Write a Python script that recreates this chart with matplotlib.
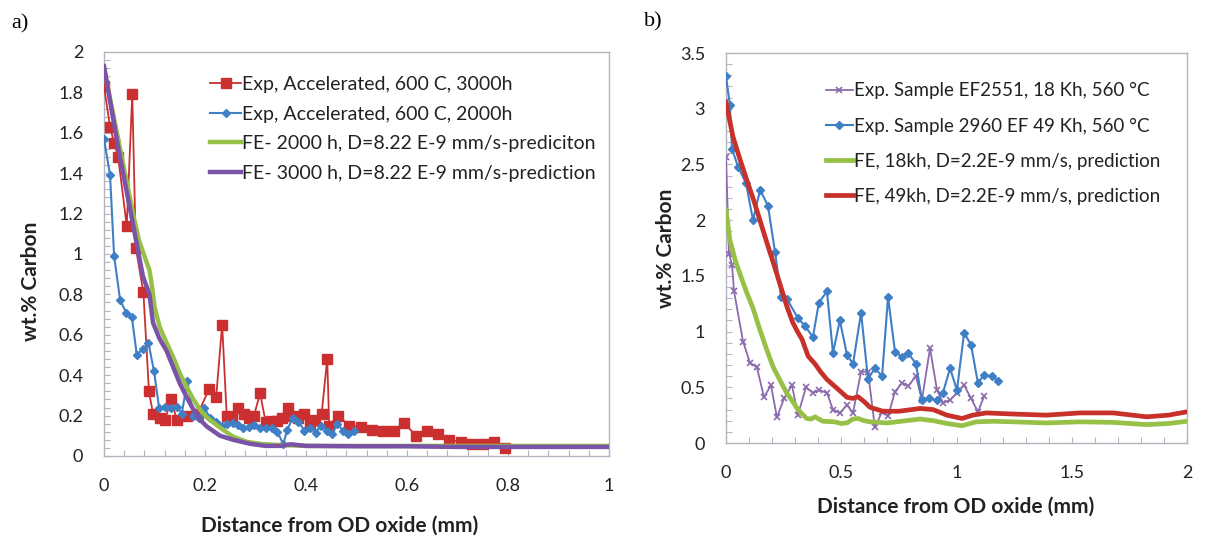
import matplotlib
matplotlib.use("Agg")
import matplotlib.pyplot as plt
from matplotlib.ticker import MultipleLocator, FuncFormatter

plt.rcParams['font.family'] = ['Lato', 'DejaVu Sans']

# ---------------- a) accelerated tests ----------------
a_exp3000_x = [0, 0.012, 0.02, 0.028, 0.045, 0.056, 0.063, 0.078, 0.089, 0.097, 0.111, 0.121,
               0.133, 0.144, 0.164, 0.186, 0.208, 0.222, 0.234, 0.243, 0.253, 0.265, 0.277,
               0.287, 0.297, 0.309, 0.32, 0.331, 0.342, 0.353, 0.365, 0.375, 0.385, 0.397,
               0.408, 0.418, 0.431, 0.442, 0.446, 0.463, 0.486, 0.508, 0.531, 0.552, 0.574,
               0.594, 0.618, 0.640, 0.662, 0.683, 0.707, 0.729, 0.750, 0.772, 0.794]
a_exp3000_y = [1.83, 1.63, 1.55, 1.48, 1.14, 1.79, 1.03, 0.81, 0.32, 0.21, 0.19, 0.18,
               0.28, 0.18, 0.20, 0.21, 0.33, 0.29, 0.65, 0.20, 0.19, 0.24, 0.21,
               0.19, 0.20, 0.31, 0.17, 0.175, 0.175, 0.19, 0.24, 0.20, 0.19, 0.21,
               0.16, 0.18, 0.21, 0.48, 0.15, 0.20, 0.15, 0.145, 0.13, 0.125, 0.125,
               0.165, 0.10, 0.125, 0.11, 0.08, 0.07, 0.06, 0.06, 0.07, 0.04]

a_exp2000_x = [0, 0.012, 0.02, 0.032, 0.044, 0.055, 0.065, 0.077, 0.088, 0.099, 0.109, 0.121,
               0.133, 0.144, 0.154, 0.165, 0.177, 0.188, 0.198, 0.21, 0.222, 0.234, 0.243,
               0.255, 0.265, 0.275, 0.287, 0.297, 0.309, 0.32, 0.333, 0.343, 0.355, 0.363,
               0.374, 0.385, 0.397, 0.408, 0.419, 0.43, 0.441, 0.452, 0.462, 0.473, 0.484, 0.495]
a_exp2000_y = [1.57, 1.39, 0.99, 0.77, 0.71, 0.69, 0.50, 0.53, 0.56, 0.42, 0.24, 0.245,
               0.24, 0.245, 0.21, 0.37, 0.20, 0.19, 0.24, 0.19, 0.17, 0.15, 0.16,
               0.165, 0.155, 0.14, 0.145, 0.155, 0.14, 0.14, 0.14, 0.12, 0.06, 0.13,
               0.19, 0.17, 0.125, 0.14, 0.115, 0.15, 0.125, 0.11, 0.16, 0.125, 0.11, 0.125]

a_fe2000_x = [0, 0.02, 0.04, 0.06, 0.07, 0.08, 0.09, 0.095, 0.1, 0.11, 0.124, 0.137, 0.15,
              0.164, 0.177, 0.19, 0.204, 0.23, 0.256, 0.283, 0.31, 0.34, 0.4, 0.5, 0.6,
              0.7, 0.8, 0.9, 1.0]
a_fe2000_y = [1.92, 1.67, 1.42, 1.17, 1.06, 0.99, 0.92, 0.84, 0.74, 0.64, 0.56, 0.49, 0.41,
              0.34, 0.28, 0.23, 0.19, 0.14, 0.095, 0.07, 0.06, 0.055, 0.05, 0.05, 0.05,
              0.05, 0.05, 0.05, 0.05]

a_fe3000_x = [0, 0.03, 0.058, 0.077, 0.09, 0.097, 0.11, 0.124, 0.137, 0.15, 0.164, 0.177,
              0.19, 0.204, 0.23, 0.256, 0.29, 0.32, 0.35, 0.37, 0.4, 0.5, 0.6, 0.7, 0.8,
              0.9, 1.0]
a_fe3000_y = [1.93, 1.50, 1.14, 0.89, 0.80, 0.66, 0.58, 0.52, 0.44, 0.36, 0.29, 0.23,
              0.18, 0.145, 0.10, 0.08, 0.06, 0.05, 0.05, 0.058, 0.05, 0.048, 0.048, 0.045,
              0.045, 0.045, 0.045]

# ---------------- b) service-exposed samples ----------------
b_exp18_x = [0, 0.013, 0.026, 0.035, 0.074, 0.104, 0.134, 0.165, 0.195, 0.221, 0.252, 0.286,
             0.312, 0.347, 0.377, 0.403, 0.438, 0.464, 0.494, 0.525, 0.551, 0.586, 0.616,
             0.646, 0.677, 0.703, 0.733, 0.764, 0.79, 0.824, 0.85, 0.885, 0.915, 0.941,
             0.972, 1.002, 1.033, 1.063, 1.093, 1.12]
b_exp18_y = [2.57, 1.70, 1.60, 1.36, 0.91, 0.72, 0.68, 0.41, 0.52, 0.23, 0.40, 0.52,
             0.25, 0.50, 0.45, 0.475, 0.45, 0.30, 0.27, 0.34, 0.27, 0.64, 0.64,
             0.14, 0.28, 0.24, 0.46, 0.54, 0.51, 0.60, 0.385, 0.85, 0.48, 0.36,
             0.385, 0.45, 0.52, 0.40, 0.28, 0.42]

b_exp49_x = [0, 0.017, 0.026, 0.052, 0.087, 0.117, 0.148, 0.182, 0.213, 0.239, 0.265, 0.312,
             0.343, 0.377, 0.403, 0.438, 0.464, 0.494, 0.525, 0.551, 0.586, 0.616, 0.646,
             0.677, 0.703, 0.733, 0.764, 0.79, 0.824, 0.85, 0.881, 0.915, 0.941, 0.972,
             1.002, 1.033, 1.063, 1.093, 1.12, 1.154, 1.18]
b_exp49_y = [3.29, 3.03, 2.64, 2.48, 2.33, 2.00, 2.27, 2.13, 1.71, 1.31, 1.29, 1.12,
             1.05, 0.95, 1.26, 1.36, 0.81, 1.10, 0.79, 0.71, 1.17, 0.575, 0.67,
             0.60, 1.31, 0.82, 0.77, 0.81, 0.71, 0.385, 0.40, 0.385, 0.45, 0.67,
             0.475, 0.99, 0.88, 0.54, 0.61, 0.60, 0.56]

b_fe18_x = [0, 0.017, 0.04, 0.06, 0.09, 0.117, 0.148, 0.178, 0.205, 0.235, 0.263, 0.29,
            0.312, 0.335, 0.35, 0.37, 0.386, 0.42, 0.47, 0.5, 0.525, 0.55, 0.573, 0.6,
            0.625, 0.7, 0.78, 0.842, 0.9, 0.958, 1.024, 1.085, 1.16, 1.245, 1.39, 1.535,
            1.68, 1.825, 1.92, 2.0]
b_fe18_y = [2.09, 1.82, 1.64, 1.52, 1.35, 1.21, 1.01, 0.83, 0.68, 0.56, 0.45, 0.37,
            0.30, 0.25, 0.22, 0.215, 0.235, 0.195, 0.19, 0.175, 0.18, 0.215, 0.22, 0.2,
            0.19, 0.18, 0.2, 0.215, 0.2, 0.175, 0.155, 0.19, 0.195, 0.19, 0.18, 0.19,
            0.185, 0.165, 0.175, 0.195]

b_fe49_x = [0, 0.03, 0.06, 0.09, 0.12, 0.15, 0.18, 0.205, 0.235, 0.265, 0.29, 0.31,
            0.33, 0.356, 0.386, 0.41, 0.438, 0.482, 0.525, 0.55, 0.573, 0.6, 0.625, 0.681,
            0.75, 0.842, 0.898, 0.958, 1.024, 1.07, 1.13, 1.245, 1.39, 1.535, 1.68,
            1.825, 1.92, 2.0]
b_fe49_y = [3.06, 2.75, 2.55, 2.36, 2.18, 1.98, 1.78, 1.62, 1.42, 1.22, 1.08, 1.00,
            0.93, 0.78, 0.71, 0.64, 0.57, 0.49, 0.41, 0.40, 0.415, 0.37, 0.32, 0.285,
            0.285, 0.31, 0.30, 0.25, 0.22, 0.25, 0.27, 0.26, 0.25, 0.27, 0.27,
            0.235, 0.25, 0.28]

RED = '#cc2f2f'
BLUE = '#3f7fc6'
GREEN = '#96c046'
PURPLE = '#7a52a8'
FE_RED = '#c8302a'
PURPLE_EXP = '#8c6aae'
FRAME = '#b4b4c0'

fig = plt.figure(figsize=(12.23, 5.41), dpi=100)
W, H = 1223, 541

ax1 = fig.add_axes([104 / W, 1 - 456 / H, (609 - 104) / W, (456 - 52) / H])
ax2 = fig.add_axes([726 / W, 1 - 443 / H, (1187 - 726) / W, (443 - 53) / H])

fmt = FuncFormatter(lambda v, p: f"{v:g}")

# Panel a
ax1.plot(a_exp3000_x, a_exp3000_y, color=RED, lw=1.3, marker='s', ms=6.5,
         label='Exp, Accelerated, 600 C, 3000h', zorder=3)
ax1.plot(a_exp2000_x, a_exp2000_y, color=BLUE, lw=1.5, marker='D', ms=4.5,
         label='Exp, Accelerated, 600 C, 2000h', zorder=3)
ax1.plot(a_fe2000_x, a_fe2000_y, color=GREEN, lw=3.2, solid_joinstyle='round',
         label='FE- 2000 h, D=8.22 E-9 mm/s-prediciton', zorder=4)
ax1.plot(a_fe3000_x, a_fe3000_y, color=PURPLE, lw=3.2, solid_joinstyle='round',
         label='FE- 3000 h, D=8.22 E-9 mm/s-prediction', zorder=5)
ax1.set_xlim(0, 1)
ax1.set_ylim(0, 2)
ax1.xaxis.set_major_locator(MultipleLocator(0.2))
ax1.xaxis.set_minor_locator(MultipleLocator(0.04))
ax1.yaxis.set_major_locator(MultipleLocator(0.2))
ax1.yaxis.set_minor_locator(MultipleLocator(0.04))

# Panel b
ax2.plot(b_exp18_x, b_exp18_y, color=PURPLE_EXP, lw=1.3, marker='x', ms=5, mew=1.2,
         label='Exp. Sample EF2551, 18 Kh, 560 °C', zorder=3)
ax2.plot(b_exp49_x, b_exp49_y, color=BLUE, lw=1.5, marker='D', ms=4,
         label='Exp. Sample 2960 EF 49 Kh, 560 °C', zorder=3)
ax2.plot(b_fe18_x, b_fe18_y, color=GREEN, lw=3.4, solid_joinstyle='round',
         label='FE, 18kh, D=2.2E-9 mm/s, prediction', zorder=4)
ax2.plot(b_fe49_x, b_fe49_y, color=FE_RED, lw=3.4, solid_joinstyle='round',
         label='FE, 49kh, D=2.2E-9 mm/s, prediction', zorder=4)
ax2.set_xlim(0, 2)
ax2.set_ylim(0, 3.5)
ax2.xaxis.set_major_locator(MultipleLocator(0.5))
ax2.xaxis.set_minor_locator(MultipleLocator(0.1))
ax2.yaxis.set_major_locator(MultipleLocator(0.5))
ax2.yaxis.set_minor_locator(MultipleLocator(0.1))

for ax in (ax1, ax2):
    ax.xaxis.set_major_formatter(fmt)
    ax.yaxis.set_major_formatter(fmt)
    for s in ax.spines.values():
        s.set_color(FRAME)
        s.set_linewidth(1.0)
    ax.tick_params(which='both', direction='in', color=FRAME, length=4, width=0.8,
                   labelsize=13, labelcolor='#222222')
    ax.tick_params(axis='y', which='major', pad=15)
    ax.tick_params(axis='x', which='major', pad=16)

leg1 = ax1.legend(loc='upper left', bbox_to_anchor=(0.21, 0.94), frameon=False,
                  fontsize=14, handlelength=1.6, handletextpad=0.05,
                  borderpad=0, borderaxespad=0, labelspacing=0.64)
leg2 = ax2.legend(loc='upper left', bbox_to_anchor=(0.216, 0.925), frameon=False,
                  fontsize=13.5, handlelength=1.45, handletextpad=0.05,
                  borderpad=0, borderaxespad=0, labelspacing=0.97)
for leg in (leg1, leg2):
    for t in leg.get_texts():
        t.set_color('#222222')

lab = dict(fontsize=15, fontweight='bold', color='#222222', ha='center', va='center')
fig.text(31 / W, 1 - 281 / H, 'wt.% Carbon', rotation=90, **lab)
fig.text(666 / W, 1 - 248 / H, 'wt.% Carbon', rotation=90, **lab)
fig.text(340 / W, 1 - 526 / H, 'Distance from OD oxide (mm)', **lab)
fig.text(956 / W, 1 - 507 / H, 'Distance from OD oxide (mm)', **lab)

fig.text(20 / W, 1 - 24 / H, 'a)', family='Liberation Serif', fontsize=16,
         ha='center', va='center')
fig.text(653 / W, 1 - 22 / H, 'b)', family='Liberation Serif', fontsize=16,
         ha='center', va='center')

fig.savefig('out.png', dpi=100, facecolor='white')
